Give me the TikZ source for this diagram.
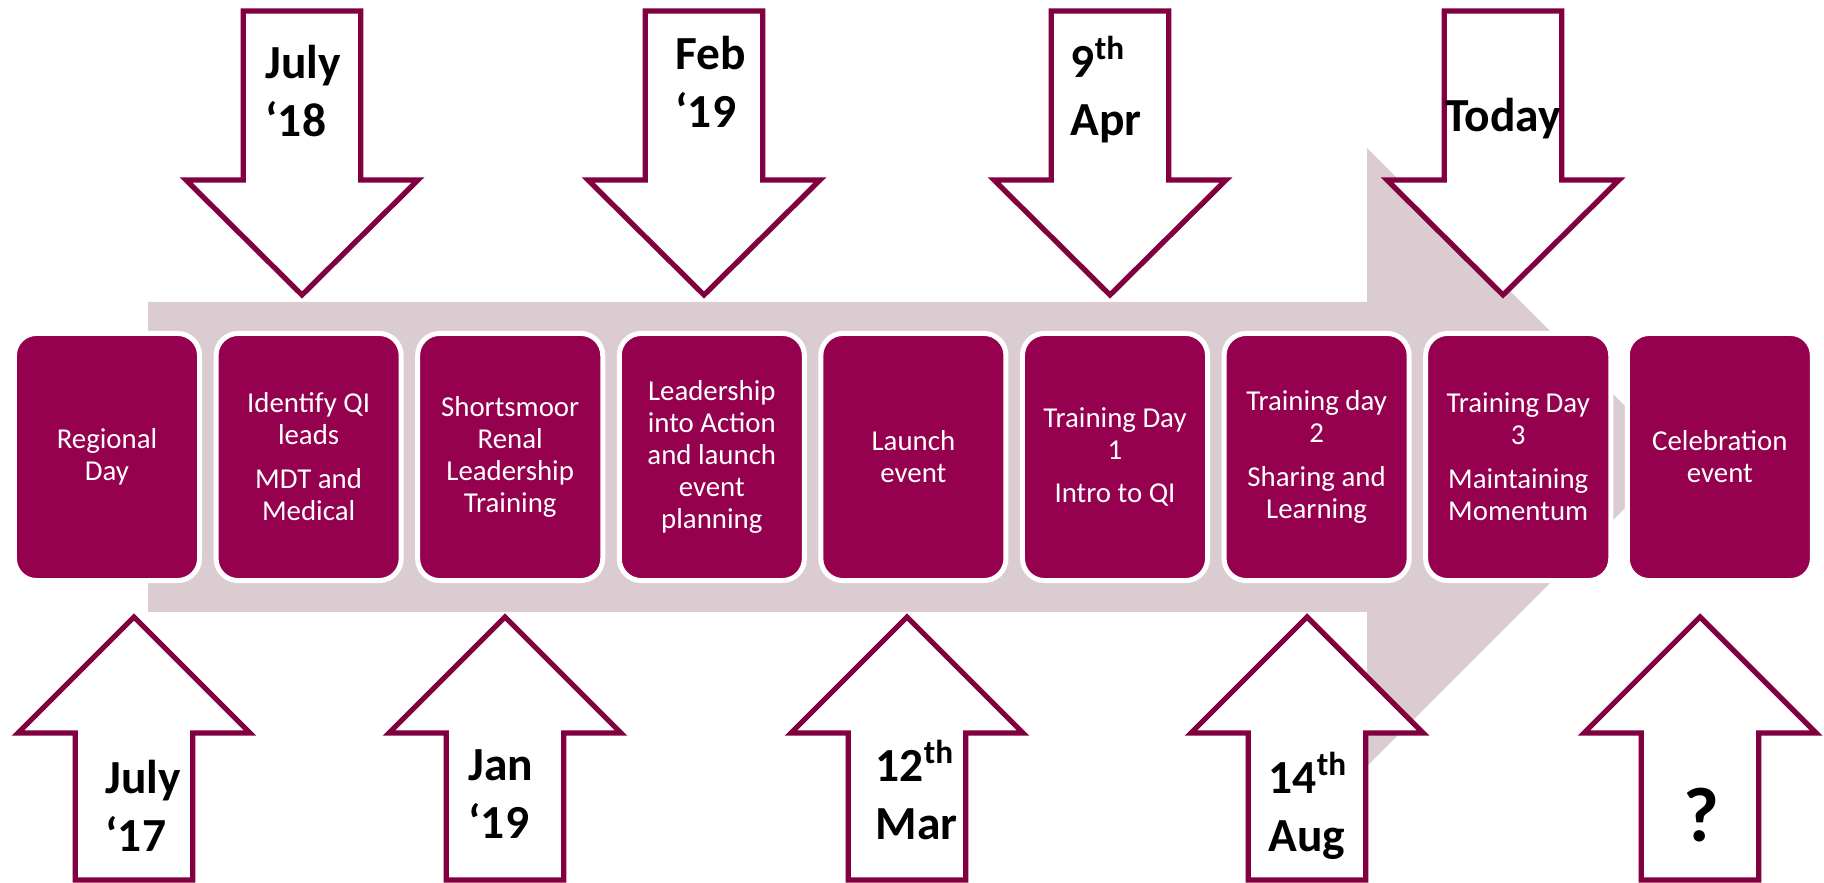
\documentclass[tikz,border=0pt]{standalone}
\usepackage{fontspec}
\setmainfont{Carlito}
\definecolor{berry}{RGB}{149,0,79}
\definecolor{arrowred}{RGB}{128,0,64}
\definecolor{mauve}{RGB}{219,204,210}
\begin{document}
\begin{tikzpicture}[x=0.01cm,y=-0.01cm,
  stage/.style={rounded corners=0.22cm, fill=berry, draw=white, line width=1.42pt,
    minimum width=1.85cm, minimum height=2.47cm, inner sep=0pt, text=white,
    align=center, font=\fontsize{8.2}{9.1}\selectfont},
  outlinearrow/.style={draw=arrowred, fill=white, line width=1.5pt},
  datelabel/.style={anchor=base west, align=left, inner sep=0pt,
    font=\fontsize{13.5}{16.5}\selectfont\bfseries},
  downarrow/.pic={\path[outlinearrow] (-58.7,0) -- (58.7,0) -- (58.7,169) -- (116,169)
    -- (0,284) -- (-116,169) -- (-58.7,169) -- cycle;},
  uparrow/.pic={\path[outlinearrow] (0,0) -- (116,116) -- (58.7,116) -- (58.7,263)
    -- (-58.7,263) -- (-58.7,116) -- (-116,116) -- cycle;}
]
\useasboundingbox (0,0) rectangle (1824,883);
% background timeline arrow
\path[fill=mauve] (148,302) -- (1367,302) -- (1367,148) -- (1676,457)
  -- (1367,766) -- (1367,612) -- (148,612) -- cycle;
% hollow date arrows
\pic at (302,11) {downarrow};
\pic at (704,11) {downarrow};
\pic at (1110,11) {downarrow};
\pic at (1503,11) {downarrow};
\pic at (134,617) {uparrow};
\pic at (505,617) {uparrow};
\pic at (907,617) {uparrow};
\pic at (1307,617) {uparrow};
\pic at (1700,617) {uparrow};
% stages
\node[stage] (s1) at (107,457) {Regional\\Day};
\node[stage] (s2) at (308.6,457) {Identify QI\\leads\\[3.4pt]MDT and\\Medical};
\node[stage] (s3) at (510.2,457) {Shortsmoor\\Renal\\Leadership\\Training};
\node[stage] (s4) at (711.8,457) {Leadership\\into Action\\and launch\\event\\planning};
\node[stage] (s5) at (913.4,457) {Launch\\event};
\node[stage] (s6) at (1115,457) {Training Day\\1\\[3.4pt]Intro to QI};
\node[stage] (s7) at (1316.6,457) {Training day\\2\\[3.4pt]Sharing and\\Learning};
\node[stage] (s8) at (1518.2,457) {Training Day\\3\\[3.4pt]Maintaining\\Momentum};
\node[stage] (s9) at (1719.8,457) {Celebration\\event};
% date labels (anchor at baseline of the last line)
\node[datelabel] (d1) at (265,137) {July\\‘18};
\node[datelabel] (d2) at (675,128) {Feb\\‘19};
\node[datelabel] (d3) at (1070,136) {9\textsuperscript{th}\\Apr};
\node[datelabel, anchor=base] (d4) at (1503,132) {Today};
\node[datelabel] (b1) at (105,852) {July\\‘17};
\node[datelabel] (b2) at (468,839) {Jan\\‘19};
\node[datelabel] (b3) at (875,840) {12\textsuperscript{th}\\Mar};
\node[datelabel] (b4) at (1268,852) {14\textsuperscript{th}\\Aug};
\node[anchor=base, inner sep=0pt, font=\fontsize{22}{22}\selectfont\bfseries] (b5) at (1701,842) {?};
\end{tikzpicture}
\end{document}
